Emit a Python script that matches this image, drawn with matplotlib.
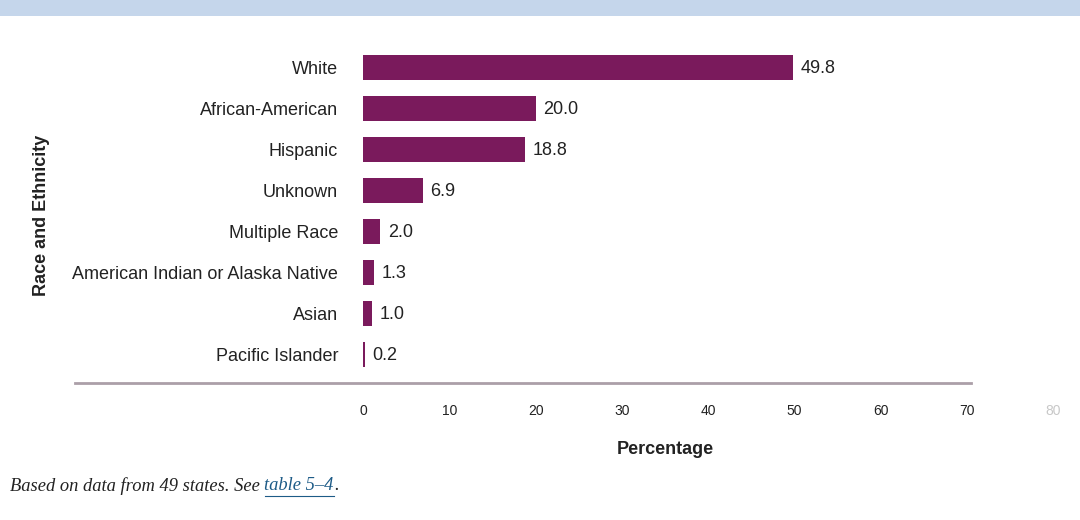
import matplotlib
matplotlib.use("Agg")
import matplotlib.pyplot as plt
from matplotlib.patches import Rectangle
from matplotlib.lines import Line2D

categories = ["White", "African-American", "Hispanic", "Unknown", "Multiple Race",
              "American Indian or Alaska Native", "Asian", "Pacific Islander"]
values = [49.8, 20.0, 18.8, 6.9, 2.0, 1.3, 1.0, 0.2]
value_labels = ["49.8", "20.0", "18.8", "6.9", "2.0", "1.3", "1.0", "0.2"]
xticks = [0, 10, 20, 30, 40, 50, 60, 70, 80]
xtick_labels = ["0", "10", "20", "30", "40", "50", "60", "70", "80"]

plt.rcParams['font.family'] = ['Liberation Sans', 'DejaVu Sans']

W, H = 1080, 520
fig = plt.figure(figsize=(W / 100, H / 100), dpi=100)
fig.patch.set_facecolor("white")

# top band
fig.add_artist(Rectangle((0, 1 - 16 / H), 1, 16 / H, transform=fig.transFigure,
                         facecolor="#c5d6eb", edgecolor="none"))

# axes: x=0 at px 363, x=70 at px 967
x0_px = 363
ppu = (967 - 363) / 70.0
x_right = x0_px + 80 * ppu
top_px, bot_px = 47, 375
ax = fig.add_axes([x0_px / W, 1 - bot_px / H, (x_right - x0_px) / W, (bot_px - top_px) / H])
ax.set_xlim(0, 80)
ax.set_ylim(len(categories) - 0.5, -0.5)
for s in ax.spines.values():
    s.set_visible(False)
ax.patch.set_alpha(0)

pos = list(range(len(categories)))
bar_color = "#7a1a5c"
ax.barh(pos, values, height=0.61, color=bar_color)

ax.set_yticks(pos)
ax.set_yticklabels(categories, fontsize=13, color="#222222")
ax.tick_params(axis="y", length=0, pad=18)

ax.set_xticks(xticks)
ax.set_xticklabels(xtick_labels, fontsize=10, color="#222222",
                   family=['Liberation Sans Narrow', 'Liberation Sans', 'DejaVu Sans'])
ax.tick_params(axis="x", length=0, pad=21)
ax.get_xticklabels()[-1].set_color("#c8c8c8")

for p, v, lab in zip(pos, values, value_labels):
    ax.annotate(lab, xy=(v, p), xytext=(5.5, -1), textcoords="offset points",
                ha="left", va="center", fontsize=13, color="#222222")

# baseline rule
fig.add_artist(Line2D([75 / W, 971 / W], [1 - 383 / H, 1 - 383 / H], transform=fig.transFigure,
                      color="#ab9fa8", linewidth=2))

# axis titles
fig.text((x0_px + 35 * ppu) / W, 1 - 450 / H, "Percentage", ha="center", va="center",
         fontsize=13, fontweight="bold", color="#222222")
fig.text(42 / W, 1 - 215 / H, "Race and Ethnicity", ha="center", va="center", rotation=90,
         fontsize=13, fontweight="bold", color="#222222")

# footnote
serif = ['Liberation Serif', 'DejaVu Serif']
fs = 13.3
t1 = fig.text(10 / W, 1 - 486 / H, "Based on data from 49 states. See ", ha="left", va="center",
              fontsize=fs, style="italic", family=serif, color="#222222")
fig.canvas.draw()
r = fig.canvas.get_renderer()
bb = t1.get_window_extent(r)
t2 = fig.text(bb.x1 / W, 1 - 486 / H, "table 5\u20134", ha="left", va="center",
              fontsize=fs, style="italic", family=serif, color="#1d5b87")
bb2 = t2.get_window_extent(r)
fig.add_artist(Line2D([bb2.x0 / W, bb2.x1 / W], [(bb2.y0 - 1) / H, (bb2.y0 - 1) / H],
                      transform=fig.transFigure, color="#1d5b87", linewidth=0.8))
fig.text(bb2.x1 / W, 1 - 486 / H, ".", ha="left", va="center",
         fontsize=fs, style="italic", family=serif, color="#222222")

fig.savefig("out.png", dpi=100)
